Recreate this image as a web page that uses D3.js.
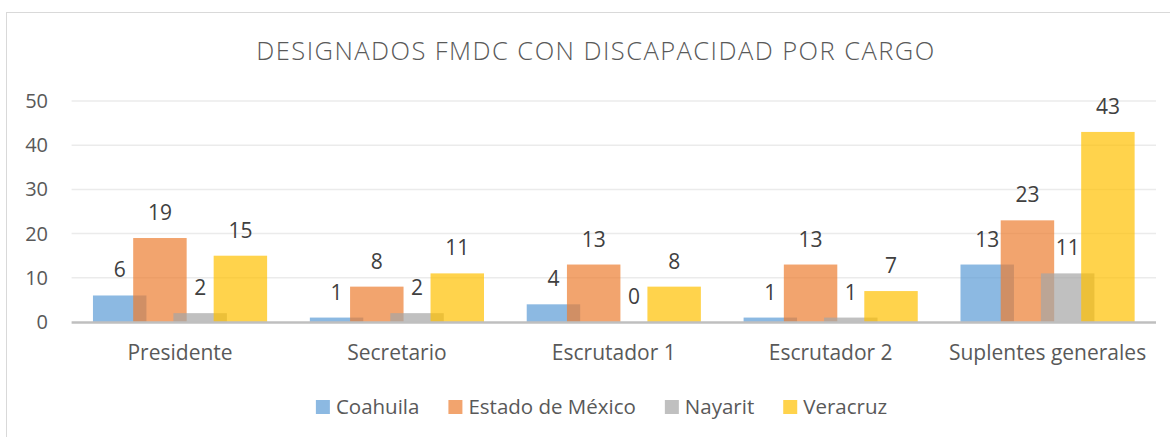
<!DOCTYPE html>
<html>
<head>
<meta charset="utf-8">
<script src="https://cdn.jsdelivr.net/npm/d3@7"></script>
<style>
  html, body { margin: 0; padding: 0; background: #fff; }
  svg { display: block; font-family: "Open Sans", sans-serif; }
</style>
</head>
<body>
<svg id="chart" width="1170" height="437"></svg>
<script>
"use strict";

// data
const cargos = ["Presidente", "Secretario", "Escrutador 1", "Escrutador 2", "Suplentes generales"];
const estados = ["Coahuila", "Estado de México", "Nayarit", "Veracruz"];
const coahuila = [6, 1, 4, 1, 13];
const edomex = [19, 8, 13, 13, 23];
const nayarit = [2, 2, 0, 1, 11];
const veracruz = [15, 11, 8, 7, 43];
const yTicks = [0, 10, 20, 30, 40, 50];
const colores = ["#5B9BD5", "#ED7D31", "#A5A5A5", "#FFC000"];

const series = [coahuila, edomex, nayarit, veracruz];

const svg = d3.select("#chart");

// chart frame
svg.append("rect")
  .attr("x", 6.5).attr("y", 12.5)
  .attr("width", 1200).attr("height", 500)
  .attr("fill", "none").attr("stroke", "#d9d9d9").attr("stroke-width", 1);

// title
svg.append("text")
  .attr("x", 596).attr("y", 60)
  .attr("text-anchor", "middle")
  .style("font-size", "25.5px").style("font-weight", 300)
  .style("letter-spacing", "1.45px")
  .attr("fill", "#595959")
  .text("DESIGNADOS FMDC CON DISCAPACIDAD POR CARGO");

// scales
const x = d3.scaleBand().domain(cargos).range([71.6, 1156])
  .paddingInner(0.197).paddingOuter(0.0985);
const y = d3.scaleLinear().domain([0, 50]).range([322, 101]);
const barW = x.bandwidth() * 0.307;
const xs = d3.scaleLinear().domain([0, estados.length - 1]).range([0, x.bandwidth() - barW]);

// gridlines
svg.append("g")
  .selectAll("line")
  .data(yTicks.filter(d => d > 0))
  .enter().append("line")
  .attr("x1", 71.6).attr("x2", 1156)
  .attr("y1", d => y(d)).attr("y2", d => y(d))
  .attr("stroke", "#ebebeb").attr("stroke-width", 1.5);

// y axis labels
const yAxis = svg.append("g")
  .attr("transform", "translate(48,0)")
  .call(d3.axisLeft(y).tickValues(yTicks).tickSize(0).tickPadding(0));
yAxis.select(".domain").remove();
yAxis.selectAll("text")
  .style("font-size", "20px").style("font-family", "'Open Sans', sans-serif")
  .attr("fill", "#595959");

// bars
series.forEach((vals, i) => {
  svg.append("g")
    .selectAll("rect")
    .data(vals)
    .enter().append("rect")
    .attr("x", (d, j) => x(cargos[j]) + xs(i))
    .attr("y", d => y(d))
    .attr("width", barW)
    .attr("height", d => y(0) - y(d))
    .attr("fill", colores[i])
    .attr("fill-opacity", 0.7);
});

// baseline
svg.append("line")
  .attr("x1", 71.6).attr("x2", 1156)
  .attr("y1", y(0) + 0.5).attr("y2", y(0) + 0.5)
  .attr("stroke", "#bfbfbf").attr("stroke-width", 2.5);

// data labels
series.forEach((vals, i) => {
  svg.append("g")
    .selectAll("text")
    .data(vals)
    .enter().append("text")
    .attr("x", (d, j) => x(cargos[j]) + xs(i) + barW / 2)
    .attr("y", d => y(d) - 18)
    .attr("text-anchor", "middle")
    .style("font-size", "21px")
    .attr("fill", "#404040")
    .text(d => d);
});

// category axis
const xAxis = svg.append("g")
  .attr("transform", "translate(0,340)")
  .call(d3.axisBottom(x).tickSize(0).tickPadding(0));
xAxis.select(".domain").remove();
xAxis.selectAll("text")
  .attr("dy", null).attr("y", 20)
  .style("font-size", "21px").style("font-family", "'Open Sans', sans-serif")
  .attr("fill", "#595959");

// legend, centred under the plot
const legend = svg.append("g");
const items = legend.selectAll("g")
  .data(estados)
  .enter().append("g");
items.append("rect")
  .attr("width", 14).attr("height", 14)
  .attr("y", 400)
  .attr("fill", (d, i) => colores[i]).attr("fill-opacity", 0.7);
items.append("text")
  .attr("x", 20).attr("y", 414)
  .style("font-size", "20.5px")
  .attr("fill", "#595959")
  .text(d => d);

let pos = 0;
items.each(function () {
  const w = d3.select(this).select("text").node().getComputedTextLength();
  d3.select(this).attr("transform", `translate(${pos},0)`);
  pos += 20 + w + 29;
});
const total = pos - 29;
legend.attr("transform", `translate(${601.5 - total / 2},0)`);
</script>
</body>
</html>
